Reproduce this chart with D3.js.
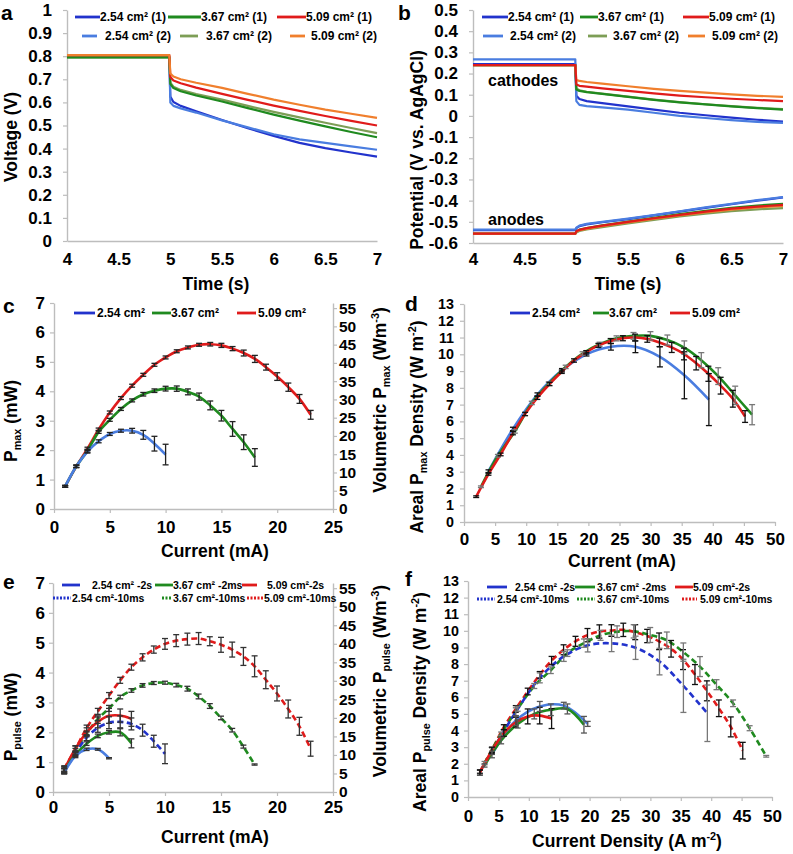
<!DOCTYPE html>
<html><head><meta charset="utf-8">
<script src="https://cdn.jsdelivr.net/npm/d3@7"></script>
<style>
body{margin:0;background:#fff}
svg text{font-family:"Liberation Sans",Arial,Helvetica,sans-serif;font-weight:bold;fill:#000}
</style></head><body>
<svg id="chart" width="793" height="854"></svg>
<script>
// ---------------- DATA ----------------
// Panel a (Voltage vs time) and b (electrode potentials)
const timeS = [4, 4.99, 5.0, 5.03, 5.1, 5.25, 5.5, 5.75, 6.0, 6.25, 6.5, 6.75, 7.0];
const aBlue1   = [0.797,0.797,0.625,0.602,0.585,0.562,0.524,0.488,0.455,0.425,0.402,0.383,0.365];
const aLBlue2  = [0.797,0.797,0.600,0.585,0.574,0.556,0.522,0.492,0.462,0.440,0.425,0.410,0.395];
const aGreen1  = [0.795,0.795,0.680,0.662,0.648,0.630,0.604,0.575,0.547,0.521,0.496,0.472,0.449];
const aOlive2  = [0.795,0.795,0.685,0.668,0.654,0.636,0.612,0.585,0.559,0.535,0.512,0.489,0.467];
const aRed1    = [0.805,0.805,0.710,0.695,0.683,0.664,0.637,0.611,0.586,0.563,0.541,0.520,0.500];
const aOrange2 = [0.805,0.805,0.725,0.712,0.700,0.685,0.663,0.637,0.612,0.590,0.569,0.551,0.533];

const bCathBlue1   = [0.245,0.245,0.095,0.080,0.070,0.060,0.045,0.030,0.015,0.003,-0.008,-0.018,-0.027];
const bCathLBlue2  = [0.267,0.267,0.070,0.052,0.046,0.040,0.030,0.015,0.000,-0.010,-0.020,-0.028,-0.033];
const bCathGreen1  = [0.240,0.240,0.125,0.118,0.112,0.104,0.090,0.076,0.064,0.054,0.045,0.037,0.030];
const bCathOlive2  = [0.240,0.240,0.130,0.121,0.114,0.105,0.091,0.077,0.065,0.055,0.046,0.038,0.032];
const bCathRed1    = [0.240,0.240,0.148,0.142,0.138,0.130,0.118,0.106,0.096,0.088,0.081,0.075,0.070];
const bCathOrange2 = [0.240,0.240,0.170,0.165,0.160,0.152,0.140,0.128,0.118,0.110,0.102,0.095,0.090];
const bAnBlue1   = [-0.539,-0.539,-0.530,-0.520,-0.512,-0.502,-0.487,-0.470,-0.452,-0.434,-0.417,-0.400,-0.385];
const bAnLBlue2  = [-0.537,-0.537,-0.528,-0.518,-0.510,-0.500,-0.485,-0.468,-0.450,-0.432,-0.415,-0.398,-0.383];
const bAnGreen1  = [-0.556,-0.556,-0.545,-0.537,-0.529,-0.517,-0.499,-0.481,-0.464,-0.448,-0.434,-0.423,-0.415];
const bAnOlive2  = [-0.556,-0.556,-0.550,-0.543,-0.536,-0.525,-0.508,-0.491,-0.475,-0.461,-0.450,-0.441,-0.435];
const bAnRed1    = [-0.556,-0.556,-0.545,-0.538,-0.530,-0.518,-0.500,-0.483,-0.467,-0.452,-0.438,-0.428,-0.420];
const bAnOrange2 = [-0.556,-0.556,-0.547,-0.540,-0.533,-0.521,-0.503,-0.486,-0.470,-0.456,-0.442,-0.432,-0.425];

// Panel c (Pmax vs current, mA / mW)
const cCurRed   = [1,2,3,4,5,6,7,8,9,10,11,12,13,14,15,16,17,18,19,20,21,22,23];
const cRed      = [0.77,1.45,2.05,2.70,3.28,3.77,4.19,4.56,4.90,5.15,5.36,5.49,5.58,5.60,5.56,5.45,5.30,5.10,4.82,4.50,4.14,3.74,3.20];
const cRedErr   = [0.03,0.04,0.05,0.05,0.05,0.05,0.05,0.05,0.05,0.05,0.05,0.05,0.05,0.06,0.07,0.07,0.10,0.12,0.10,0.13,0.14,0.15,0.15];
const cCurGreen = [1,2,3,4,5,6,7,8,9,10,11,12,13,14,15,16,17,18];
const cGreen    = [0.77,1.45,1.98,2.62,3.03,3.40,3.69,3.90,4.02,4.09,4.09,3.98,3.82,3.52,3.17,2.72,2.27,1.75];
const cGreenErr = [0.03,0.04,0.05,0.05,0.05,0.05,0.05,0.06,0.06,0.08,0.09,0.10,0.12,0.15,0.18,0.25,0.25,0.30];
const cCurBlue  = [1,2,3,4,5,6,7,8,9,10];
const cBlue     = [0.77,1.45,1.95,2.30,2.55,2.66,2.66,2.52,2.22,1.85];
const cBlueErr  = [0.03,0.04,0.05,0.05,0.05,0.05,0.08,0.15,0.25,0.35];

// Panel d (areal Pmax density vs current density)
const dXRed   = [1.96,3.93,5.89,7.86,9.82,11.79,13.75,15.72,17.68,19.65,21.61,23.58,25.54,27.50,29.47,31.43,33.40,35.36,37.33,39.29,41.26,43.22,45.19];
const dRed    = [1.51,2.85,4.03,5.30,6.44,7.41,8.23,8.96,9.63,10.12,10.53,10.79,10.96,11.00,10.92,10.71,10.41,10.02,9.47,8.84,8.13,7.35,6.29];
const dRedErr = [0.05,0.06,0.08,0.10,0.10,0.10,0.10,0.10,0.10,0.10,0.12,0.15,0.15,0.20,0.20,0.25,0.30,0.35,0.40,0.45,0.50,0.50,0.35];
const dXGreen   = [2.72,5.45,8.17,10.90,13.62,16.35,19.07,21.80,24.52,27.25,29.97,32.70,35.42,38.15,40.87,43.60,46.32];
const dGreen    = [2.10,3.95,5.40,7.10,8.25,9.25,10.05,10.60,10.95,11.10,11.10,10.85,10.40,9.65,8.70,7.55,6.40];
const dGreenErr = [0.05,0.08,0.10,0.10,0.10,0.10,0.10,0.12,0.15,0.20,0.25,0.30,0.40,0.45,0.50,0.55,0.60];
const dXBlue   = [3.94,7.87,11.81,15.75,19.69,23.62,27.56,31.50,35.43,39.37];
const dBlue    = [3.03,5.55,7.60,9.05,10.00,10.45,10.45,9.85,8.75,7.30];
const dBlueErr = [0.08,0.10,0.10,0.10,0.10,0.20,0.35,0.60,1.40,1.55];

// Panel e (Ppulse vs current)
const eCurRed10 = [1,2,3,4,5,6,7,8,9,10,11,12,13,14,15,16,17,18,19,20,21,22,23];
const eRed10    = [0.78,1.44,2.14,2.70,3.23,3.74,4.18,4.51,4.77,4.96,5.07,5.12,5.14,5.05,4.93,4.77,4.54,4.21,3.76,3.30,2.78,2.20,1.45];
const eRed10Err = [0.10,0.10,0.10,0.10,0.10,0.10,0.10,0.12,0.12,0.18,0.20,0.20,0.20,0.15,0.25,0.25,0.30,0.35,0.30,0.25,0.30,0.30,0.25];
const eCurGreen10 = [1,2,3,4,5,6,7,8,9,10,11,12,13,14,15,16,17,18];
const eGreen10    = [0.75,1.40,1.95,2.45,2.80,3.18,3.40,3.57,3.65,3.66,3.58,3.46,3.20,2.88,2.48,2.07,1.52,0.92];
const eGreen10Err = [0.08,0.06,0.06,0.06,0.10,0.06,0.06,0.06,0.05,0.05,0.06,0.08,0.08,0.08,0.06,0.06,0.05,0.02];
const eCurBlue10 = [1,2,3,4,5,6,7,8,9,10];
const eBlue10    = [0.70,1.30,1.82,2.15,2.32,2.35,2.28,2.07,1.70,1.28];
const eBlue10Err = [0.08,0.08,0.10,0.15,0.20,0.20,0.20,0.20,0.20,0.33];
const eCur2      = [1,2,3,4,5,6,7];
const eRed2      = [0.75,1.45,2.00,2.35,2.55,2.56,2.45];
const eRed2Err   = [0.10,0.10,0.15,0.20,0.25,0.22,0.25];
const eGreen2    = [0.70,1.25,1.62,1.88,2.00,2.00,1.63];
const eGreen2Err = [0.08,0.06,0.06,0.06,0.06,0.12,0.15];
const eCurBlue2  = [1,2,3,4,5];
const eBlue2     = [0.65,1.20,1.43,1.43,1.13];
const eBlue2Err  = [0.05,0.05,0.04,0.03,0.02];

// Panel f (areal Ppulse density vs current density)
const fXRed10   = [1.96,3.93,5.89,7.86,9.82,11.79,13.75,15.72,17.68,19.65,21.61,23.58,25.54,27.50,29.47,31.43,33.40,35.36,37.33,39.29,41.26,43.22,45.19];
const fRed10    = [1.53,2.83,4.20,5.30,6.35,7.35,8.21,8.86,9.37,9.74,9.96,10.02,10.06,9.92,9.69,9.37,8.92,8.27,7.37,6.39,5.34,4.22,2.79];
const fRed10Err = [0.10,0.15,0.15,0.20,0.20,0.20,0.25,0.30,0.30,0.40,0.40,0.35,0.40,0.45,0.40,0.50,0.50,0.60,0.60,0.60,0.50,0.60,0.50];
const fXGreen10   = [2.72,5.45,8.17,10.90,13.62,16.35,19.07,21.80,24.52,27.25,29.97,32.70,35.42,38.15,40.87,43.60,46.32,49.05];
const fGreen10    = [2.04,3.81,5.31,6.68,7.63,8.66,9.26,9.73,9.95,9.97,9.75,9.43,8.72,7.85,6.76,5.64,4.14,2.45];
const fGreen10Err = [0.10,0.10,0.15,0.15,0.20,0.20,0.25,0.30,0.35,0.40,0.45,0.50,0.55,0.60,0.30,0.20,0.15,0.05];
const fXBlue10   = [3.94,7.87,11.81,15.75,19.69,23.62,27.56,31.50,35.43,39.37];
const fBlue10    = [2.76,5.12,7.17,8.46,9.13,9.25,8.98,8.15,6.69,5.04];
const fBlue10Err = [0.20,0.25,0.30,0.30,0.40,0.50,0.70,0.80,1.60,1.70];
const fXRed2    = [1.96,3.93,5.89,7.86,9.82,11.79,13.75];
const fRed2     = [1.47,2.80,3.85,4.50,4.85,4.90,4.72];
const fRed2Err  = [0.15,0.20,0.20,0.30,0.45,0.50,0.60];
const fXGreen2   = [2.72,5.45,8.17,10.90,13.62,16.35,19.07];
const fGreen2    = [1.90,3.40,4.40,5.00,5.25,5.30,4.35];
const fGreen2Err = [0.10,0.20,0.25,0.30,0.35,0.30,0.50];
const fXBlue2   = [3.94,7.87,11.81,15.75,19.69];
const fBlue2    = [2.56,4.60,5.45,5.50,4.40];
const fBlue2Err = [0.20,0.30,0.30,0.20,0.15];

// Tick values
const ticksTime = [4,4.5,5,5.5,6,6.5,7];
const ticksVolt = d3.range(0,11).map(i=>i/10);
const ticksPot  = d3.range(-6,6).map(i=>i/10);
const ticksCur25 = [0,5,10,15,20,25];
const ticksCur50 = [0,5,10,15,20,25,30,35,40,45,50];
const ticksP7   = [0,1,2,3,4,5,6,7];
const ticksP13  = d3.range(0,14);
const ticksVol55 = d3.range(0,56,5);

// ---------------- STYLE ----------------
const C_BLUE="#2233cc", C_LBLUE="#4a7de0", C_GREEN="#1f8a1f", C_OLIVE="#7d9e56",
      C_RED="#e01b1b", C_ORANGE="#f07f2d", AXIS="#bdbdbd";
const svg = d3.select("#chart");
const fmt = d => String(+(+d).toFixed(2));

function panel(p){
  const g = svg.append("g");
  const x = d3.scaleLinear().domain(p.xd).range([p.L,p.R]);
  const y = d3.scaleLinear().domain(p.yd).range([p.B,p.T]);
  const styleAxis = fs => sel => {
    sel.select(".domain").attr("stroke",AXIS).attr("stroke-width",1.4);
    sel.selectAll(".tick line").attr("stroke",AXIS).attr("stroke-width",1.2);
    sel.selectAll(".tick text").attr("font-size",fs).attr("fill","#000");
  };
  g.append("g").attr("transform",`translate(0,${p.B})`)
    .call(d3.axisBottom(x).tickValues(p.xt).tickSize(p.xts==null?4:p.xts).tickSizeOuter(0).tickPadding(p.xpad).tickFormat(fmt))
    .call(styleAxis(17));
  g.append("g").attr("transform",`translate(${p.L},0)`)
    .call(d3.axisLeft(y).tickValues(p.yt).tickSize(4).tickSizeOuter(0).tickPadding(p.ypad).tickFormat(fmt))
    .call(styleAxis(p.yfs||17));
  let y2=null;
  if(p.y2d){
    y2 = d3.scaleLinear().domain(p.y2d).range([p.B,p.T]);
    g.append("g").attr("transform",`translate(${p.R},0)`)
      .call(d3.axisRight(y2).tickValues(p.y2t).tickSize(4).tickSizeOuter(0).tickPadding(2).tickFormat(fmt))
      .call(styleAxis(15.5));
  }
  return {g,x,y,y2};
}
function line(pn, xs, ys, color, opt={}){
  const data = xs.map((d,i)=>[d,ys[i]]);
  pn.g.append("path").datum(data)
    .attr("d", d3.line().x(d=>pn.x(d[0])).y(d=>pn.y(d[1])).curve(opt.curve||d3.curveCatmullRom.alpha(0.5)))
    .attr("fill","none").attr("stroke",color).attr("stroke-width",opt.w||2.6)
    .attr("stroke-dasharray",opt.dash||null).attr("stroke-linejoin","round");
}
function errs(pn, xs, ys, es, color){
  const gg = pn.g.append("g").attr("stroke",color).attr("stroke-width",1.3).attr("fill","none");
  xs.forEach((xv,i)=>{
    const cx=pn.x(xv), y1=pn.y(ys[i]-es[i]), y2=pn.y(ys[i]+es[i]);
    gg.append("line").attr("x1",cx).attr("x2",cx).attr("y1",y1).attr("y2",y2);
    gg.append("line").attr("x1",cx-3).attr("x2",cx+3).attr("y1",y1).attr("y2",y1);
    gg.append("line").attr("x1",cx-3).attr("x2",cx+3).attr("y1",y2).attr("y2",y2);
  });
}
// rich text: parts = [[text, kind]] kind: ''|'sub'|'sup'
function rich(sel, parts, fs){
  let back = 0;
  parts.forEach(([t,k])=>{
    const sh = k==="sub" ? fs*0.25 : (k==="sup" ? -fs*0.38 : 0);
    const ts = sel.append("tspan").attr("font-size", k ? fs*0.62 : fs).text(t);
    const dy = sh + back;
    if(dy) ts.attr("dy", dy);
    back = -sh;
  });
  return sel;
}
function vtitle(cx, cy, parts, fs=17.5){
  rich(svg.append("text").attr("text-anchor","middle").attr("transform",`translate(${cx},${cy}) rotate(-90)`).attr("font-size",fs), parts, fs);
}
function htitle(cx, by, parts, fs=17.5){
  rich(svg.append("text").attr("text-anchor","middle").attr("x",cx).attr("y",by).attr("font-size",fs), parts, fs);
}
function plabel(x,y,t){ svg.append("text").attr("x",x).attr("y",y).attr("font-size",21).text(t); }
function legend(items, fs){
  items.forEach(it=>{
    svg.append("line").attr("x1",it.x1).attr("x2",it.x2).attr("y1",it.y).attr("y2",it.y)
      .attr("stroke",it.c).attr("stroke-width",it.w||2.8).attr("stroke-dasharray",it.dash||null);
    svg.append("text").attr("x",it.tx).attr("y",it.y+fs*0.36).attr("font-size",fs).text(it.t);
  });
}

// ---------------- PANEL A ----------------
const pa = panel({L:67,R:377,B:241,T:10,xd:[4,7],yd:[0,1],xt:ticksTime,yt:ticksVolt,xpad:12,ypad:11,xts:0});
const lin = {curve:d3.curveLinear, w:2.2};
line(pa,timeS,aBlue1,C_BLUE,lin);
line(pa,timeS,aLBlue2,C_LBLUE,lin);
line(pa,timeS,aOlive2,C_OLIVE,lin);
line(pa,timeS,aGreen1,C_GREEN,lin);
line(pa,timeS,aRed1,C_RED,lin);
line(pa,timeS,aOrange2,C_ORANGE,lin);
plabel(1,20,"a");
vtitle(17,137,[["Voltage (V)"]]);
htitle(216,290,[["Time (s)"]]);
legend([
  {x1:75,x2:100,y:17,c:C_BLUE,tx:100,t:"2.54 cm² (1)"},
  {x1:168,x2:201,y:17,c:C_GREEN,tx:201,t:"3.67 cm² (1)"},
  {x1:277,x2:306,y:17,c:C_RED,tx:306,t:"5.09 cm² (1)"},
  {x1:82,x2:97,y:36,c:C_LBLUE,tx:105,t:"2.54 cm² (2)"},
  {x1:180,x2:198,y:36,c:C_OLIVE,tx:206,t:"3.67 cm² (2)"},
  {x1:290,x2:305,y:36,c:C_ORANGE,tx:311,t:"5.09 cm² (2)"}
],12);

// ---------------- PANEL B ----------------
const pb = panel({L:473,R:783,B:243,T:10,xd:[4,7],yd:[-0.6,0.5],xt:ticksTime,yt:ticksPot,xpad:10,ypad:11,xts:0});
[[bCathBlue1,bAnBlue1,C_BLUE],[bCathLBlue2,bAnLBlue2,C_LBLUE],[bCathOlive2,bAnOlive2,C_OLIVE],
 [bCathGreen1,bAnGreen1,C_GREEN],[bCathOrange2,bAnOrange2,C_ORANGE],[bCathRed1,bAnRed1,C_RED]].forEach(s=>{
  line(pb,timeS,s[0],s[2],lin); line(pb,timeS,s[1],s[2],lin);
});
plabel(398,20,"b");
vtitle(423,150,[["Potential (V vs. AgAgCl)"]]);
htitle(628,290,[["Time (s)"]]);
svg.append("text").attr("x",488).attr("y",86).attr("font-size",16).text("cathodes");
svg.append("text").attr("x",488).attr("y",225).attr("font-size",16).text("anodes");
legend([
  {x1:482,x2:508,y:17,c:C_BLUE,tx:508,t:"2.54 cm² (1)"},
  {x1:580,x2:598,y:17,c:C_GREEN,tx:598,t:"3.67 cm² (1)"},
  {x1:683,x2:709,y:17,c:C_RED,tx:709,t:"5.09 cm² (1)"},
  {x1:483,x2:503,y:36,c:C_LBLUE,tx:510,t:"2.54 cm² (2)"},
  {x1:588,x2:607,y:36,c:C_OLIVE,tx:613,t:"3.67 cm² (2)"},
  {x1:688,x2:705,y:36,c:C_ORANGE,tx:712,t:"5.09 cm² (2)"}
],12);

// ---------------- PANEL C ----------------
const pc = panel({L:54,R:333,B:509,T:303,xd:[0,25],yd:[0,7],xt:ticksCur25,yt:ticksP7,xpad:8,ypad:5,y2d:[0,56.4],y2t:ticksVol55});
line(pc,cCurRed,cRed,C_RED);
line(pc,cCurGreen,cGreen,C_GREEN);
line(pc,cCurBlue,cBlue,C_LBLUE);
errs(pc,cCurRed,cRed,cRedErr,"#222");
errs(pc,cCurGreen,cGreen,cGreenErr,"#222");
errs(pc,cCurBlue,cBlue,cBlueErr,"#222");
plabel(3,313,"c");
vtitle(17,421,[["P"],["max","sub"],[" (mW)"]]);
vtitle(386,400,[["Volumetric P"],["max","sub"],[" (Wm"],["-3","sup"],[")"]]);
htitle(215,557,[["Current (mA)"]]);
legend([
  {x1:74,x2:95,y:313,c:C_BLUE,tx:97,t:"2.54 cm²"},
  {x1:152,x2:171,y:313,c:C_GREEN,tx:171,t:"3.67 cm²"},
  {x1:237,x2:256,y:313,c:C_RED,tx:258,t:"5.09 cm²"}
],12);

// ---------------- PANEL D ----------------
const pd = panel({L:464,R:775,B:522,T:304,xd:[0,50],yd:[0,13],xt:ticksCur50,yt:ticksP13,xpad:7,ypad:6,yfs:14.3});
line(pd,dXBlue,dBlue,C_LBLUE);
line(pd,dXGreen,dGreen,C_GREEN);
line(pd,dXRed,dRed,C_RED);
errs(pd,dXBlue,dBlue,dBlueErr,"#111");
errs(pd,dXGreen,dGreen,dGreenErr,"#777");
errs(pd,dXRed,dRed,dRedErr,"#111");
plabel(405,311,"d");
vtitle(423,427,[["Areal P"],["max","sub"],["  Density (W m"],["-2","sup"],[")"]]);
htitle(622,567,[["Current (mA)"]]);
legend([
  {x1:510,x2:530,y:313,c:C_BLUE,tx:532,t:"2.54 cm²"},
  {x1:593,x2:609,y:313,c:C_GREEN,tx:609,t:"3.67 cm²"},
  {x1:670,x2:690,y:313,c:C_RED,tx:692,t:"5.09 cm²"}
],12);

// ---------------- PANEL E ----------------
const pe = panel({L:53,R:333,B:792,T:583,xd:[0,25],yd:[0,7],xt:ticksCur25,yt:ticksP7,xpad:5,ypad:4,y2d:[0,56.4],y2t:ticksVol55});
const dsh = "6,3.5";
line(pe,eCurRed10,eRed10,C_RED,{dash:dsh});
line(pe,eCurGreen10,eGreen10,C_GREEN,{dash:dsh});
line(pe,eCurBlue10,eBlue10,C_BLUE,{dash:dsh});
line(pe,eCur2,eRed2,C_RED);
line(pe,eCur2,eGreen2,C_GREEN);
line(pe,eCurBlue2,eBlue2,C_LBLUE);
errs(pe,eCurRed10,eRed10,eRed10Err,"#333");
errs(pe,eCurGreen10,eGreen10,eGreen10Err,"#333");
errs(pe,eCurBlue10,eBlue10,eBlue10Err,"#333");
errs(pe,eCur2,eRed2,eRed2Err,"#333");
errs(pe,eCur2,eGreen2,eGreen2Err,"#333");
errs(pe,eCurBlue2,eBlue2,eBlue2Err,"#333");
plabel(3,589,"e");
vtitle(17,717,[["P"],["pulse","sub"],[" (mW)"]]);
vtitle(386,681,[["Volumetric P"],["pulse","sub"],[" (Wm"],["-3","sup"],[")"]]);
htitle(215,843,[["Current (mA)"]]);
legend([
  {x1:62,x2:80,y:585,c:C_BLUE,tx:92,t:"2.54 cm² -2s"},
  {x1:155,x2:173,y:585,c:C_GREEN,tx:173,t:"3.67 cm² -2ms"},
  {x1:242,x2:257,y:585,c:C_RED,tx:267,t:"5.09 cm²-2s"},
  {x1:53,x2:71,y:598,c:C_BLUE,tx:72,t:"2.54 cm²-10ms",dash:"2,1.5"},
  {x1:162,x2:172,y:598,c:C_GREEN,tx:173,t:"3.67 cm²-10ms",dash:"2,1.5"},
  {x1:247,x2:264,y:598,c:C_RED,tx:264,t:"5.09 cm²-10ms",dash:"2,1.5"}
],10.5);

// ---------------- PANEL F ----------------
const pf = panel({L:468,R:772,B:797,T:581,xd:[0,50],yd:[0,13],xt:ticksCur50,yt:ticksP13,xpad:9,ypad:5,yfs:14.3});
line(pf,fXRed10,fRed10,C_RED,{dash:dsh});
line(pf,fXGreen10,fGreen10,C_GREEN,{dash:dsh});
line(pf,fXBlue10,fBlue10,C_BLUE,{dash:dsh});
line(pf,fXBlue2,fBlue2,C_LBLUE);
line(pf,fXGreen2,fGreen2,C_GREEN);
line(pf,fXRed2,fRed2,C_RED);
errs(pf,fXRed10,fRed10,fRed10Err,"#111");
errs(pf,fXGreen10,fGreen10,fGreen10Err,"#777");
errs(pf,fXBlue10,fBlue10,fBlue10Err,"#777");
errs(pf,fXRed2,fRed2,fRed2Err,"#111");
errs(pf,fXGreen2,fGreen2,fGreen2Err,"#555");
errs(pf,fXBlue2,fBlue2,fBlue2Err,"#555");
plabel(405,586,"f");
vtitle(426,702,[["Areal P"],["pulse","sub"],[" Density (W m"],["-2","sup"],[")"]]);
htitle(627,847,[["Current Density (A m"],["-2","sup"],[")"]]);
legend([
  {x1:487,x2:507,y:587,c:C_BLUE,tx:515,t:"2.54 cm² -2s"},
  {x1:575,x2:595,y:587,c:C_GREEN,tx:597,t:"3.67 cm² -2ms"},
  {x1:675,x2:693,y:587,c:C_RED,tx:693,t:"5.09 cm²-2s"},
  {x1:477,x2:495,y:599,c:C_BLUE,tx:497,t:"2.54 cm²-10ms",dash:"2,1.5"},
  {x1:577,x2:595,y:599,c:C_GREEN,tx:597,t:"3.67 cm²-10ms",dash:"2,1.5"},
  {x1:682,x2:697,y:599,c:C_RED,tx:700,t:"5.09 cm²-10ms",dash:"2,1.5"}
],10.5);
</script>
</body></html>
